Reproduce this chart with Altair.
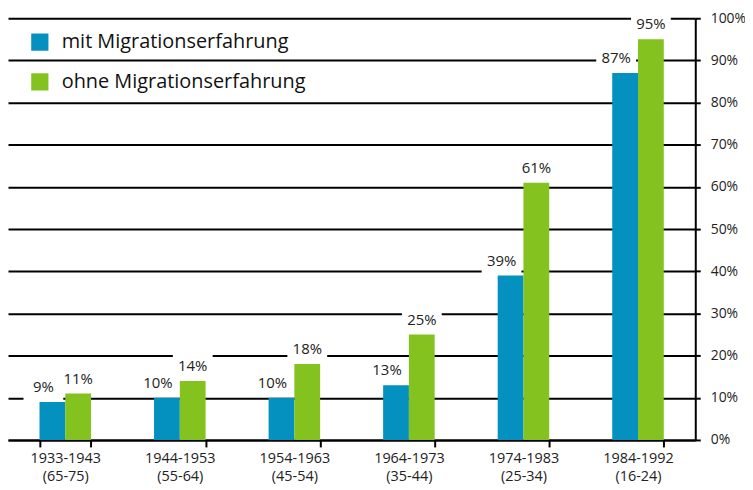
import altair as alt
import pandas as pd

categories = ["1933-1943 (65-75)", "1944-1953 (55-64)", "1954-1963 (45-54)",
              "1964-1973 (35-44)", "1974-1983 (25-34)", "1984-1992 (16-24)"]
series = ["mit Migrationserfahrung", "ohne Migrationserfahrung"]
mit = [9, 10, 10, 13, 39, 87]
ohne = [11, 14, 18, 25, 61, 95]
colors = ["#0491C0", "#84C21F"]
y_ticks = [0, 10, 20, 30, 40, 50, 60, 70, 80, 90, 100]

rows = []
for c, a, b in zip(categories, mit, ohne):
    rows.append({"cat": c, "series": series[0], "value": a, "label": f"{a}%"})
    rows.append({"cat": c, "series": series[1], "value": b, "label": f"{b}%"})
df = pd.DataFrame(rows)

FONT = "Open Sans"

xscale = alt.Scale(domain=categories, paddingInner=0.55, paddingOuter=0.275)
xenc = alt.X("cat:N", scale=xscale, sort=categories, title=None,
             axis=alt.Axis(labelExpr="split(datum.label, ' ')", labelAngle=0,
                           tickBand="extent", tickSize=7, tickWidth=2, tickColor="black",
                           domainColor="black", domainWidth=2, labelFontSize=14.5,
                           labelColor="#222", labelFont=FONT, labelPadding=5,
                           labelLineHeight=17.5))
yscale = alt.Scale(domain=[0, 100], nice=False)
yenc = alt.Y("value:Q", scale=yscale, title=None,
             axis=alt.Axis(orient="right", values=y_ticks, labelExpr="datum.value + '%'",
                           grid=True, gridColor="black", gridWidth=2, domainColor="black",
                           domainWidth=2, tickColor="black", tickWidth=2, tickSize=5,
                           labelFontSize=14, labelColor="#222", labelFont=FONT,
                           labelPadding=10))

base = alt.Chart(df)

bars = base.mark_bar().encode(
    x=xenc,
    xOffset=alt.XOffset("series:N", sort=series),
    y=yenc,
    color=alt.Color("series:N", scale=alt.Scale(domain=series, range=colors),
                    legend=alt.Legend(orient="none", legendX=22, legendY=14, title=None,
                                      symbolType="square", symbolSize=300,
                                      symbolStrokeWidth=0, labelFontSize=20,
                                      labelFont=FONT, labelColor="#111", labelLimit=0,
                                      rowPadding=20, labelOffset=12)),
)

layers = [bars]
for s, dx in zip(series, [-22, 13]):
    sub = base.transform_filter(alt.datum.series == s)
    box = sub.mark_bar(width=40, xOffset=dx, yOffset=-26, y2Offset=-2, color="white").encode(
        x=xenc, y=alt.Y("value:Q", scale=yscale), y2="value:Q")
    txt = sub.mark_text(dx=dx, dy=-15, baseline="middle", align="center",
                        fontSize=15, font=FONT, color="#222").encode(
        x=xenc, y=alt.Y("value:Q", scale=yscale), text="label:N")
    layers += [box, txt]

chart = alt.layer(*layers).properties(
    width=691, height=424,
    autosize=alt.AutoSizeParams(type="none"),
    padding={"left": 0, "top": 9, "right": 50, "bottom": 50},
).configure_view(strokeWidth=0)

chart.save("out.html", embed_options={"renderer": "svg", "actions": False})
